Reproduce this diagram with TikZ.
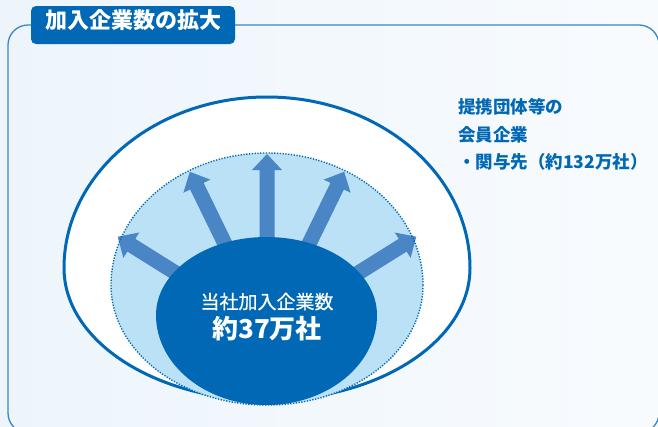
\documentclass[tikz,border=0pt]{standalone}
\usepackage{fontspec}
\newfontfamily\jpfont{Noto Sans CJK JP}
\newfontfamily\jpmed{Noto Sans CJK JP}[FakeBold=0.6]
\definecolor{mainblue}{RGB}{0,104,180}
\definecolor{arrowblue}{RGB}{74,134,198}
\definecolor{lightfill}{RGB}{187,225,247}
\definecolor{framecol}{RGB}{58,134,200}
\definecolor{bgleft}{RGB}{237,245,251}
\definecolor{bgright}{RGB}{248,251,254}
\begin{document}
\begin{tikzpicture}[x=1pt,y=-1pt,
  cjk/.style={text height=0.88em, text depth=0.12em, inner sep=0pt},
  growarrow/.style={fill=arrowblue}]
\useasboundingbox (0,0) rectangle (658,426);
\begin{scope}
\clip (0,0) rectangle (658,426);
\shade[left color=bgleft, right color=bgright] (0,0) rectangle (658,426);
% frame
\draw[framecol, line width=1.3pt, rounded corners=20pt] (8,25) rectangle (659,433);
% outer egg
\draw[mainblue, line width=3pt, fill=white] (470,268)
  arc[start angle=0, end angle=180, x radius=203, y radius=132]
  arc[start angle=180, end angle=360, x radius=203, y radius=171] -- cycle;
% dotted region fill
\fill[lightfill] (423,285)
  arc[start angle=0, end angle=180, x radius=156, y radius=120]
  arc[start angle=180, end angle=360, x radius=156, y radius=132] -- cycle;
% arrows
\foreach \a in {32,64,90,116,148}{
  \fill[growarrow, shift={(267,330)}, rotate=\a]
    (0,-7.5) -- (160,-7.5) -- (160,-15) -- (176,0) -- (160,15) -- (160,7.5) -- (0,7.5) -- cycle;
}
% dotted outline
\draw[mainblue, line width=1.4pt, dash pattern=on 1.3pt off 1.5pt] (423,285)
  arc[start angle=0, end angle=180, x radius=156, y radius=120]
  arc[start angle=180, end angle=360, x radius=156, y radius=132] -- cycle;
% dark core
\fill[mainblue] (377,315)
  arc[start angle=0, end angle=180, x radius=110.5, y radius=90]
  arc[start angle=180, end angle=360, x radius=110.5, y radius=78] -- cycle;
\end{scope}
% title
\node[cjk, fill=mainblue, rounded corners=5pt, minimum width=204pt, minimum height=38pt,
  text=white, font=\jpfont\fontsize{22}{22}\selectfont\bfseries] (title) at (133,25) {加入企業数の拡大};
% core text
\node[cjk, text=white, font=\jpmed\fontsize{19}{19}\selectfont] (core1) at (267,305) {当社加入企業数};
\node[cjk, text=white, font=\jpfont\fontsize{26}{26}\selectfont\bfseries] (core2) at (267,335) {約37万社};
% outer label
\node[cjk, anchor=base west, text=mainblue, font=\jpfont\fontsize{17.5}{17.5}\selectfont\bfseries] (lab1) at (458,113.6) {提携団体等の};
\node[cjk, anchor=base west, text=mainblue, font=\jpfont\fontsize{17.5}{17.5}\selectfont\bfseries] (lab2) at (458,141.3) {会員企業};
\node[cjk, anchor=base west, text=mainblue, font=\jpfont\fontsize{17.5}{17.5}\selectfont\bfseries] (lab3) at (458,168.8) {・関与先（約132万社）};
\end{tikzpicture}
\end{document}
